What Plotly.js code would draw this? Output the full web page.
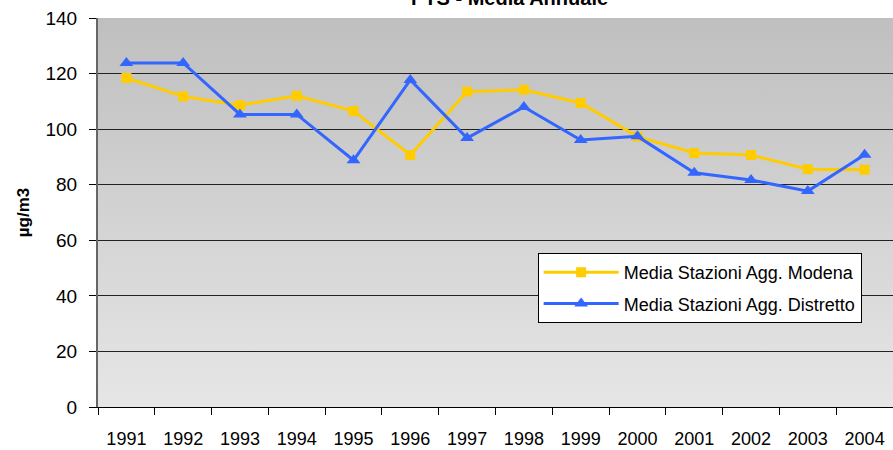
<!DOCTYPE html>
<html>
<head>
<meta charset="utf-8">
<script src="https://cdn.plot.ly/plotly-3.0.1.min.js"></script>
<style>html,body{margin:0;padding:0;background:#fff;}#chart{width:893px;height:450px;}</style>
</head>
<body>
<div id="chart"></div>
<script>
const years = ["1991","1992","1993","1994","1995","1996","1997","1998","1999","2000","2001","2002","2003","2004"];
const modena = [118.4, 111.8, 108.6, 112.0, 106.5, 90.7, 113.5, 114.2, 109.4, 97.3, 91.4, 90.7, 85.6, 85.4];
const distretto = [123.8, 123.8, 105.3, 105.3, 88.8, 117.7, 96.8, 108.0, 96.1, 97.4, 84.3, 81.7, 77.7, 90.8];
const seriesNames = ["Media Stazioni Agg. Modena", "Media Stazioni Agg. Distretto"];
const titleText = "PTS - Media Annuale";
const yTitle = "µg/m3";

const font = "Liberation Sans, Arial, sans-serif";
const grad = 'data:image/svg+xml;utf8,' + encodeURIComponent(
  '<svg xmlns="http://www.w3.org/2000/svg" width="100" height="100" preserveAspectRatio="none">' +
  '<defs><linearGradient id="g" x1="0" y1="0" x2="0" y2="1">' +
  '<stop offset="0" stop-color="#bfbfbf"/><stop offset="1" stop-color="#e6e6e6"/></linearGradient></defs>' +
  '<rect width="100" height="100" fill="url(#g)"/></svg>');

const data = [
  {x: years, y: modena, name: seriesNames[0], legendgroup: 'a', type: 'scatter', mode: 'lines+markers',
   line: {color: '#FFCC00', width: 3}, marker: {symbol: 'square', size: 10, color: '#FFCC00'}},
  {x: years, y: distretto, name: seriesNames[1], legendgroup: 'b', type: 'scatter', mode: 'lines+markers',
   line: {color: '#3366FF', width: 3}, marker: {symbol: 'triangle-up', size: 12, color: '#3366FF'}}
];

const layout = {
  width: 893, height: 450,
  margin: {l: 98, r: 0, t: 18, b: 43},
  paper_bgcolor: '#ffffff',
  plot_bgcolor: '#d0d0d0',
  font: {family: font, size: 18, color: '#000'},
  showlegend: true,
  legend: {x: 0.553, y: 0.396, xanchor: 'left', yanchor: 'top',
           bgcolor: '#ffffff', bordercolor: '#000', borderwidth: 1,
           font: {family: font, size: 18, color: '#000'}, itemwidth: 75,
           tracegroupgap: 5},
  xaxis: {type: 'category', range: [-0.5, 13.5], tickson: 'boundaries',
          ticks: 'outside', ticklen: 7, tickcolor: '#000', showgrid: false,
          showline: true, linecolor: '#000', linewidth: 1, ticklabelstandoff: 15,
          tickfont: {family: font, size: 18}, zeroline: false, fixedrange: true},
  yaxis: {range: [0, 140], dtick: 20, ticks: 'outside', ticklen: 7, tickcolor: '#000',
          showgrid: true, gridcolor: '#222', gridwidth: 1, ticklabelstandoff: 8,
          showline: true, linecolor: '#666', linewidth: 2, zeroline: false,
          tickfont: {family: font, size: 19},
          title: {text: yTitle, font: {family: font, size: 17, color: '#000', weight: 'bold'}, standoff: 12}},
  images: [{source: grad, xref: 'paper', yref: 'paper', x: 0, y: 1, sizex: 1, sizey: 1,
            sizing: 'stretch', xanchor: 'left', yanchor: 'top', layer: 'below'}],
  annotations: [{text: '<b>' + titleText + '</b>', xref: 'paper', yref: 'paper',
                 x: 0.518, y: 1.018, xanchor: 'center', yanchor: 'bottom', showarrow: false,
                 font: {family: font, size: 20, color: '#000'}}]
};

Plotly.newPlot('chart', data, layout, {staticPlot: true});
</script>
</body>
</html>
